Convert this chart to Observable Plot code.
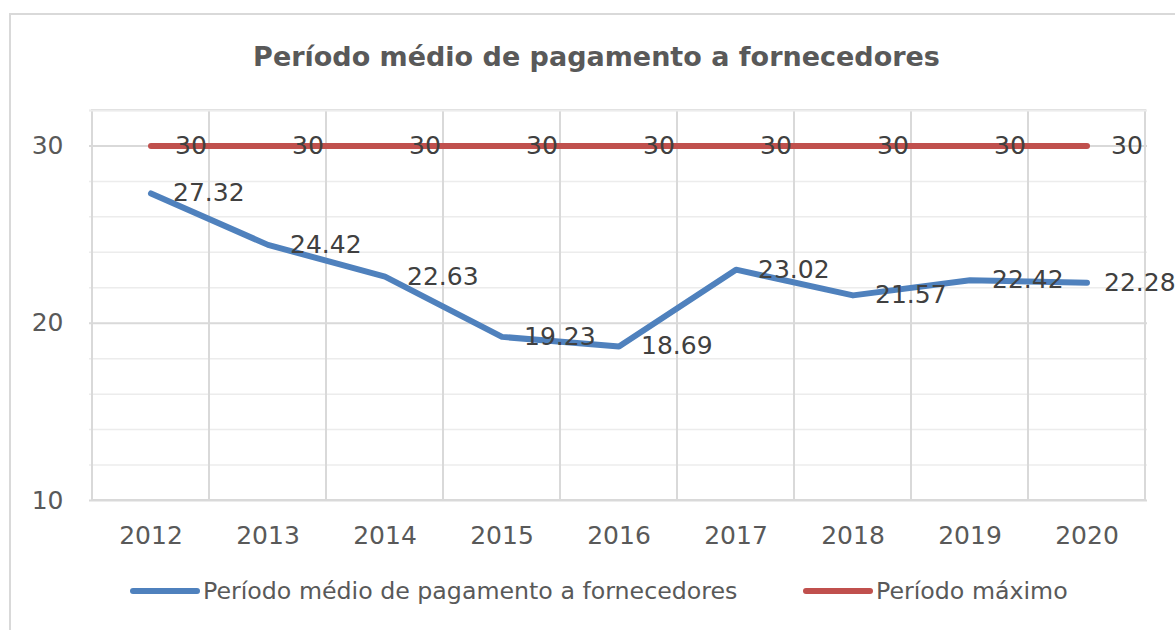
<!DOCTYPE html>
<html>
<head>
<meta charset="utf-8">
<script src="https://cdn.jsdelivr.net/npm/d3@7"></script>
<script src="https://cdn.jsdelivr.net/npm/@observablehq/plot@0.6"></script>
<style>
  html, body { margin: 0; padding: 0; background: #fff; overflow: hidden; }
  #wrap { position: relative; width: 1175px; height: 630px; overflow: hidden; background: #fff; }
  #frame { position: absolute; left: 9px; top: 13px; width: 1300px; height: 800px; border: 2px solid #d9d9d9; pointer-events: none; }
  #title { position: absolute; left: 0; width: 1193px; top: 38px; text-align: center; font-family: "DejaVu Sans", sans-serif; font-weight: bold; font-size: 27px; color: #595959; line-height: 38px; }
  #chart { position: absolute; left: 0; top: 0; }
  .leg { position: absolute; top: 577px; height: 28px; display: flex; align-items: center; font-family: "DejaVu Sans", sans-serif; font-size: 23.7px; color: #595959; white-space: nowrap; }
  .sw { width: 70px; height: 6px; border-radius: 3px; margin-right: 3px; }
</style>
</head>
<body>
<div id="wrap">
  <div id="chart"></div>
  <div id="title"></div>
  <div id="legend"></div>
  <div id="frame"></div>
</div>
<script>
const titleText = "Período médio de pagamento a fornecedores";
const years = ["2012", "2013", "2014", "2015", "2016", "2017", "2018", "2019", "2020"];
const medio = [27.32, 24.42, 22.63, 19.23, 18.69, 23.02, 21.57, 22.42, 22.28];
const maximo = [30, 30, 30, 30, 30, 30, 30, 30, 30];
const seriesNames = ["Período médio de pagamento a fornecedores", "Período máximo"];
const seriesColors = ["#4f81bd", "#c0504d"];
const yTicks = [10, 20, 30];
const yGridMinor = [12, 14, 16, 18, 22, 24, 26, 28, 32];
const yDomain = [10, 32];

const rowsMedio = years.map((y, i) => ({year: y, value: medio[i]}));
const rowsMax = years.map((y, i) => ({year: y, value: maximo[i]}));
const lastYear = years[years.length - 1];

document.getElementById("title").textContent = titleText;

const chart = Plot.plot({
  width: 1175,
  height: 560,
  marginTop: 110,
  marginBottom: 60,
  marginLeft: 89,
  marginRight: 28,
  style: {fontFamily: "DejaVu Sans, sans-serif", fontSize: "25px", color: "#595959", background: "transparent", overflow: "visible"},
  x: {type: "band", domain: years, padding: 0, label: null, tickSize: 0, tickPadding: 26},
  y: {domain: yDomain, ticks: yTicks, label: null, tickSize: 0, tickPadding: 26},
  marks: [
    Plot.ruleY(yGridMinor, {stroke: "#ececec", strokeWidth: 1.5}),
    Plot.barY(years, {x: d => d, y1: yDomain[0], y2: yDomain[1], fill: "none", stroke: "#d9d9d9", strokeWidth: 2}),
    Plot.ruleY([yDomain[1]], {stroke: "#ececec", strokeWidth: 2}),
    Plot.ruleY(yTicks, {stroke: "#d9d9d9", strokeWidth: 2}),
    Plot.line(rowsMax, {x: "year", y: "value", stroke: seriesColors[1], strokeWidth: 6, strokeLinecap: "round"}),
    Plot.line(rowsMedio, {x: "year", y: "value", stroke: seriesColors[0], strokeWidth: 6, strokeLinecap: "round", strokeLinejoin: "round"}),
    Plot.text(rowsMax, {x: "year", y: "value", text: d => String(d.value), textAnchor: "start", dx: 24, fill: "#404040", fontSize: 25}),
    Plot.text(rowsMedio.filter(d => d.year !== lastYear), {x: "year", y: "value", text: d => String(d.value), textAnchor: "start", dx: 22, fill: "#404040", fontSize: 25}),
    Plot.text(rowsMedio.filter(d => d.year === lastYear), {x: "year", y: "value", text: d => String(d.value), textAnchor: "start", dx: 17, fill: "#404040", fontSize: 25})
  ]
});
document.getElementById("chart").appendChild(chart);

const legend = document.getElementById("legend");
const legLeft = [130, 803];
seriesNames.forEach((name, i) => {
  const item = document.createElement("div");
  item.className = "leg";
  item.style.left = legLeft[i] + "px";
  const sw = document.createElement("div");
  sw.className = "sw";
  sw.style.background = seriesColors[i];
  const t = document.createElement("span");
  t.textContent = name;
  item.appendChild(sw);
  item.appendChild(t);
  legend.appendChild(item);
});
</script>
</body>
</html>
